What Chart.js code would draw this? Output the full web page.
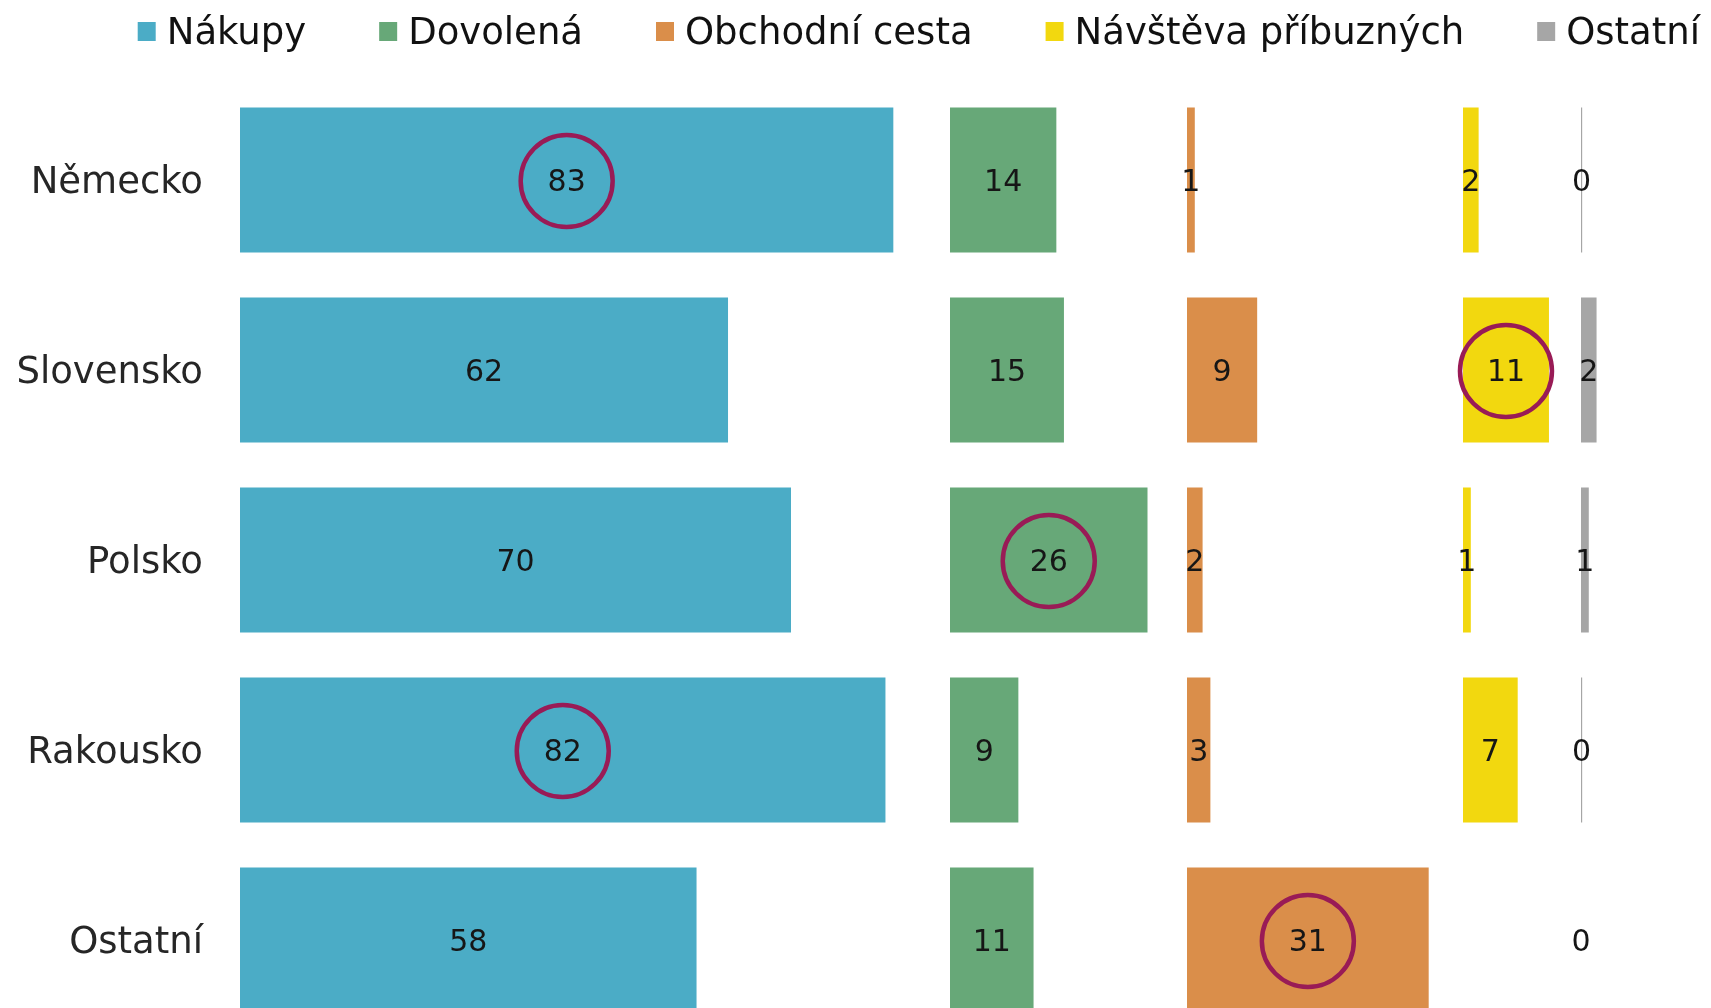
<!DOCTYPE html>
<html>
<head>
<meta charset="utf-8">
<script src="https://cdn.jsdelivr.net/npm/chart.js@4.4.0/dist/chart.umd.min.js"></script>
<style>
  html, body { margin: 0; padding: 0; background: #fff; overflow: hidden; }
  canvas { display: block; }
</style>
</head>
<body>
<canvas id="chart" width="1711" height="1035"></canvas>
<script>
// categories (rows) and series (columns)
const categories = ['Německo', 'Slovensko', 'Polsko', 'Rakousko', 'Ostatní'];
const seriesNames = ['Nákupy', 'Dovolená', 'Obchodní cesta', 'Návštěva příbuzných', 'Ostatní'];

// values (labels are shown rounded)
const nakupy   = [83, 62, 70, 82, 58];
const dovolena = [14, 15, 26, 9, 11];
const obchodni = [1, 9, 2, 3, 31];
const navsteva = [2, 11, 1, 7, null];
const ostatni  = [0.15, 2, 1, 0.15, 0];

// which cells get a circle: [row, column]
const circled = [[0, 0], [1, 3], [2, 1], [3, 0], [4, 2]];

// each column gets its own axis: share of the width and axis max
const colWeight = [710, 237, 276, 118, 130];
const axisMax = [90.2, 31.2, 35.4, 15.1, 16.7];

const colors = ['#4BACC6', '#67A878', '#DA8E4A', '#F2D80F', '#A6A6A6'];
const FONT = 'DejaVu Sans';

const allValues = [nakupy, dovolena, obchodni, navsteva, ostatni];

const datasets = allValues.map(function(vals, i){
    return {
        label: seriesNames[i],
        data: vals,
        xAxisID: 'x' + i,
        yAxisID: 'y',
        backgroundColor: colors[i],
        borderWidth: 0,
        grouped: false,
        barPercentage: 0.763,
        categoryPercentage: 1
    };
});

const scales = {
    y: {
        type: 'category',
        position: 'left',
        grid: { display: false, drawTicks: false },
        border: { display: false },
        ticks: { font: { family: FONT, size: 37 }, color: '#262626', padding: 37, labelOffset: 3 },
        afterFit: function(s){
            s.width = 240;
            // tick padding should not eat the plot height
            s.paddingTop = 0;
            s.paddingBottom = 0;
        }
    }
};
axisMax.forEach(function(m, i){
    scales['x' + i] = {
        type: 'linear',
        position: 'bottom',
        stack: 'cols',
        stackWeight: colWeight[i],
        min: 0,
        max: m,
        display: false
    };
});

// value labels inside the bars + circles
const valueLabels = {
    id: 'valueLabels',
    afterDatasetsDraw: function(chart){
        const ctx = chart.ctx;
        ctx.save();
        ctx.font = '30px "' + FONT + '"';
        ctx.textAlign = 'center';
        ctx.textBaseline = 'middle';
        ctx.fillStyle = '#161616';
        chart.data.datasets.forEach(function(ds, i){
            const meta = chart.getDatasetMeta(i);
            meta.data.forEach(function(bar, j){
                const v = ds.data[j];
                if (v === null || v === undefined) return;
                ctx.fillText(String(Math.round(v)), (bar.x + bar.base) / 2, bar.y + 3);
            });
        });
        ctx.strokeStyle = '#991B56';
        ctx.lineWidth = 4.5;
        circled.forEach(function(c){
            const bar = chart.getDatasetMeta(c[1]).data[c[0]];
            ctx.beginPath();
            ctx.arc((bar.x + bar.base) / 2, bar.y + 1, 46, 0, Math.PI * 2);
            ctx.stroke();
        });
        ctx.restore();
    }
};

// legend drawn on top, right aligned
const topLegend = {
    id: 'topLegend',
    afterDraw: function(chart){
        const ctx = chart.ctx;
        const box = 18, textGap = 11, itemGap = 73, right = 1700, cy = 31;
        ctx.save();
        ctx.font = '37px "' + FONT + '"';
        ctx.textBaseline = 'middle';
        ctx.textAlign = 'left';
        const widths = seriesNames.map(function(n){ return ctx.measureText(n).width; });
        let total = 0;
        widths.forEach(function(w){ total += box + textGap + w; });
        total += itemGap * (widths.length - 1);
        let x = right - total;
        seriesNames.forEach(function(n, i){
            ctx.fillStyle = colors[i];
            ctx.fillRect(x, cy - 9, box, 19);
            ctx.fillStyle = '#111';
            ctx.fillText(n, x + box + textGap, cy + 3);
            x += box + textGap + widths[i] + itemGap;
        });
        ctx.restore();
    }
};

new Chart(document.getElementById('chart'), {
    type: 'bar',
    data: { labels: categories, datasets: datasets },
    options: {
        indexAxis: 'y',
        responsive: false,
        animation: false,
        layout: { padding: { top: 85, left: 0, right: 0, bottom: 0 } },
        plugins: {
            legend: { display: false },
            tooltip: { enabled: false }
        },
        scales: scales
    },
    plugins: [valueLabels, topLegend]
});
</script>
</body>
</html>
